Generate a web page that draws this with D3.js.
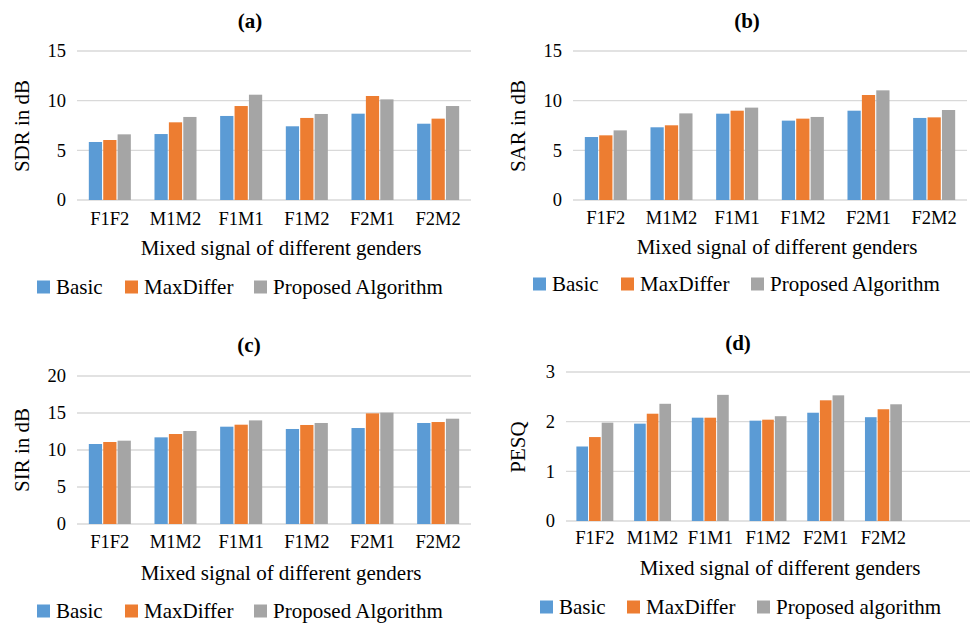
<!DOCTYPE html>
<html>
<head>
<meta charset="utf-8">
<script src="https://cdn.jsdelivr.net/npm/d3@7"></script>
<style>
  body { margin: 0; background: #fff; }
  text { font-family: "Liberation Serif", "Times New Roman", serif; fill: #000; }
</style>
</head>
<body>
<svg id="chart" width="970" height="624"></svg>
<script>
// Categories and series
const mixes = ["F1F2", "M1M2", "F1M1", "F1M2", "F2M1", "F2M2"];
const seriesNames = ["Basic", "MaxDiffer", "Proposed Algorithm"];
const seriesNamesD = ["Basic", "MaxDiffer", "Proposed algorithm"];
const colors = ["#5b9bd5", "#ed7d31", "#a5a5a5"];

// SDR (a)
const sdrBasic = [5.84, 6.64, 8.46, 7.42, 8.69, 7.68];
const sdrMax = [6.04, 7.82, 9.46, 8.26, 10.47, 8.19];
const sdrProp = [6.61, 8.36, 10.6, 8.66, 10.13, 9.46];
// SAR (b)
const sarBasic = [6.34, 7.32, 8.69, 7.99, 8.99, 8.26];
const sarMax = [6.51, 7.52, 8.99, 8.19, 10.57, 8.32];
const sarProp = [7.01, 8.72, 9.3, 8.36, 11.04, 9.06];
// SIR (c)
const sirBasic = [10.81, 11.71, 13.15, 12.84, 12.97, 13.65];
const sirMax = [11.08, 12.16, 13.42, 13.38, 14.95, 13.78];
const sirProp = [11.26, 12.57, 14.0, 13.65, 15.05, 14.23];
// PESQ (d)
const pesqBasic = [1.5, 1.96, 2.08, 2.02, 2.18, 2.09];
const pesqMax = [1.69, 2.16, 2.08, 2.04, 2.43, 2.25];
const pesqProp = [1.98, 2.36, 2.54, 2.11, 2.53, 2.35];

// Tick values
const ticksDb = [0, 5, 10, 15];
const ticksSir = [0, 5, 10, 15, 20];
const ticksPesq = [0, 1, 2, 3];

const svg = d3.select("#chart");

// Draw one clustered column panel
function drawPanel(p) {
    const g = svg.append("g");

    // categories on the axis (panel d has an extra empty slot)
    const slots = mixes.concat(d3.range(p.extraSlots).map(i => "_" + i));
    const x = d3.scaleBand().domain(slots).range([p.left, p.right]);
    const groupW = x.bandwidth() * 0.64;
    const x1 = d3.scaleBand().domain(d3.range(3)).range([0, groupW]).paddingInner(0.08);
    const y = d3.scaleLinear().domain([0, p.max]).range([p.bottom, p.top]);

    // gridlines
    g.selectAll(".grid")
        .data(p.ticks)
        .enter().append("line")
        .attr("x1", p.left)
        .attr("x2", p.right)
        .attr("y1", d => y(d))
        .attr("y2", d => y(d))
        .attr("stroke", "#d9d9d9")
        .attr("stroke-width", 1.3);

    // y tick labels
    g.selectAll(".ytick")
        .data(p.ticks)
        .enter().append("text")
        .attr("x", p.left - 11)
        .attr("y", d => y(d))
        .attr("dy", "0.35em")
        .attr("text-anchor", "end")
        .style("font-size", "18.5px")
        .text(d => d);

    // bars
    const series = p.values.map((vals, si) => ({ si, vals }));
    series.forEach(s => {
        g.selectAll(".bar" + s.si)
            .data(mixes)
            .enter().append("rect")
            .attr("x", (d) => x(d) + (x.bandwidth() - groupW) / 2 + x1(s.si))
            .attr("y", (d, i) => y(s.vals[i]))
            .attr("width", x1.bandwidth())
            .attr("height", (d, i) => y(0) - y(s.vals[i]))
            .attr("fill", colors[s.si]);
    });

    // x tick labels
    g.selectAll(".xtick")
        .data(mixes)
        .enter().append("text")
        .attr("x", d => x(d) + x.bandwidth() / 2)
        .attr("y", p.xTickY)
        .attr("dy", "0.35em")
        .attr("text-anchor", "middle")
        .style("font-size", "18.5px")
        .text(d => d);

    // title
    g.append("text")
        .attr("x", p.titleX)
        .attr("y", p.titleY)
        .attr("dy", "0.35em")
        .attr("text-anchor", "middle")
        .style("font-size", "21px")
        .style("font-weight", "bold")
        .text(p.title);

    // y title
    g.append("text")
        .attr("transform", `translate(${p.yTitleX},${p.yTitleY}) rotate(-90)`)
        .attr("dy", "0.35em")
        .attr("text-anchor", "middle")
        .style("font-size", "21px")
        .text(p.yTitle);

    // x title
    g.append("text")
        .attr("x", p.xTitleX)
        .attr("y", p.xTitleY)
        .attr("dy", "0.35em")
        .attr("text-anchor", "middle")
        .style("font-size", "21px")
        .text("Mixed signal of different genders");

    // legend
    p.legendNames.forEach((name, i) => {
        g.append("rect")
            .attr("x", p.legendX[i])
            .attr("y", p.legendY - 6.5)
            .attr("width", 13)
            .attr("height", 13)
            .attr("fill", colors[i]);
        g.append("text")
            .attr("x", p.legendX[i] + 19)
            .attr("y", p.legendY)
            .attr("dy", "0.35em")
            .style("font-size", "21px")
            .text(name);
    });
}

drawPanel({
    title: "(a)", titleX: 250, titleY: 21,
    yTitle: "SDR in dB", yTitleX: 22, yTitleY: 126,
    left: 77, right: 471, top: 51, bottom: 200, max: 15, ticks: ticksDb,
    values: [sdrBasic, sdrMax, sdrProp], extraSlots: 0,
    xTickY: 219, xTitleX: 281, xTitleY: 248,
    legendNames: seriesNames, legendX: [37, 125, 254], legendY: 287
});

drawPanel({
    title: "(b)", titleX: 747, titleY: 21,
    yTitle: "SAR in dB", yTitleX: 518, yTitleY: 126,
    left: 573, right: 967, top: 51, bottom: 200, max: 15, ticks: ticksDb,
    values: [sarBasic, sarMax, sarProp], extraSlots: 0,
    xTickY: 218, xTitleX: 777, xTitleY: 247,
    legendNames: seriesNames, legendX: [533, 621, 751], legendY: 284
});

drawPanel({
    title: "(c)", titleX: 249, titleY: 345,
    yTitle: "SIR in dB", yTitleX: 22, yTitleY: 450,
    left: 77, right: 471, top: 376, bottom: 524, max: 20, ticks: ticksSir,
    values: [sirBasic, sirMax, sirProp], extraSlots: 0,
    xTickY: 542, xTitleX: 281, xTitleY: 573,
    legendNames: seriesNames, legendX: [37, 125, 254], legendY: 611
});

drawPanel({
    title: "(d)", titleX: 738, titleY: 343,
    yTitle: "PESQ", yTitleX: 518, yTitleY: 447,
    left: 566, right: 970, top: 372, bottom: 521, max: 3, ticks: ticksPesq,
    values: [pesqBasic, pesqMax, pesqProp], extraSlots: 1,
    xTickY: 538, xTitleX: 780, xTitleY: 568,
    legendNames: seriesNamesD, legendX: [540, 627, 757], legendY: 607
});
</script>
</body>
</html>
